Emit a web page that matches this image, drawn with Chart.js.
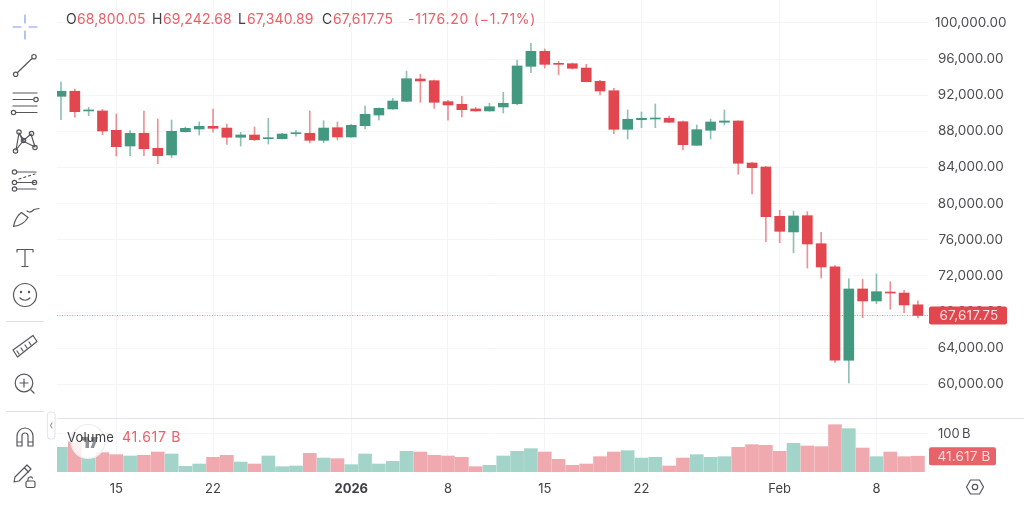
<!DOCTYPE html>
<html>
<head>
<meta charset="utf-8">
<title>BTC daily candles</title>
<script src="https://cdn.jsdelivr.net/npm/chart.js@4/dist/chart.umd.js"></script>
<style>
  html, body { margin: 0; padding: 0; background: #fff; overflow: hidden; }
  #wrap { position: relative; width: 1024px; height: 507px; font-family: Inter, "Noto Sans", sans-serif; }
  canvas { position: absolute; left: 0; top: 0; }
  svg { position: absolute; left: 0; top: 0; pointer-events: none; }
  .txt { position: absolute; font-size: 14px; line-height: 16px; white-space: pre; letter-spacing: .1px; top: 11px; }
  .dark { color: #3f4045; }
  .red { color: #e9606a; }
</style>
</head>
<body>
<div id="wrap">
  <canvas id="c" width="1024" height="507"></canvas>
  <svg width="1024" height="507" viewBox="0 0 1024 507" fill="none" stroke="#55575d" stroke-width="1.2" stroke-linecap="round" stroke-linejoin="round">
    <!-- watermark badge over the volume pane -->
    <circle cx="88" cy="441.5" r="17" fill="rgba(255,255,255,.82)" stroke="#ececee"/>
    <path d="M81 437h8v11h-3.5v-7.5H81z M91 437h7l-4 11h-3.5l3-7.5H91z" fill="#6a6b70" stroke="none" opacity=".75"/>
    <!-- crosshair -->
    <g stroke="#7f9bf0"><path d="M13 27h8M29 27h8M25 15v8M25 31v8"/></g>
    <!-- trend line -->
    <path d="M17.5 72.5L32 58.5"/><circle cx="15.7" cy="74.3" r="2.2"/><circle cx="34" cy="56.7" r="2.2"/>
    <!-- parallel channels -->
    <path d="M13 93h24M13 99.5h20M13 106h24M16 112.5h21"/><circle cx="36" cy="99.5" r="2.2"/><circle cx="13.5" cy="112.5" r="2.2"/>
    <!-- pattern tool -->
    <path d="M16 150L19 133L24 140L31 134L35 147L23 141L16 150M19 133L23 141"/>
    <circle cx="19" cy="132" r="2.2"/><circle cx="31.5" cy="133.5" r="2.2"/><circle cx="23.5" cy="140.5" r="2.2"/><circle cx="35" cy="147.5" r="2.2"/><circle cx="15.5" cy="151" r="2.2"/>
    <!-- fibonacci levels -->
    <path d="M17 172h19M17 182.5h18M17 189h19"/><path d="M19 179l16-5" stroke-dasharray="2 3"/>
    <circle cx="14.5" cy="172" r="2.2"/><circle cx="14.5" cy="182.5" r="2.2"/><circle cx="34.5" cy="182.5" r="2.2"/><circle cx="14.5" cy="189" r="2.2"/>
    <!-- brush -->
    <path d="M13.5 226.5c1-5 4-11 8-14l6.5 5c-3 5-7 8-14.500 9z"/><path d="M27 211c2 1.500 4 2 7-1.500l5-1"/>
    <!-- text -->
    <path d="M17 252v-2.500h16v2.500M25 249.500v17M22 266.500h6"/>
    <!-- emoji -->
    <circle cx="25" cy="295" r="11.500"/><path d="M20 298c3 3 7 3 10 0"/><circle cx="21" cy="292" r=".6"/><circle cx="29" cy="292" r=".6"/>
    <!-- divider rules -->
    <path d="M6.500 321.500h37M6.500 411.500h37" stroke="#dfe0e6"/>
    <!-- ruler -->
    <path d="M13 350L33 335.500l4 6L17.500 357z"/><path d="M17 351l2 3M21 348l2 3M25 345l2 3M29 342l2 3"/>
    <!-- zoom -->
    <circle cx="24" cy="383" r="8.800"/><path d="M31 390l3 3M24 379v8M20 383h8"/>
    <!-- magnet -->
    <path d="M17 446v-10a8 8 0 0 1 16 0v10h-5v-10a3 3 0 0 0-6 0v10zM17 442h5M28 442h5"/>
    <!-- lock pencil -->
    <path d="M14 482l1-5 12-12 4 4-12 12z"/><path d="M24.500 468l4 4"/><rect x="26" y="481" width="9" height="6.500" rx="1.500"/><path d="M28 481v-2a2.500 2.500 0 0 1 4.500-1"/>
    <!-- side collapse tab -->
    <rect x="47.500" y="412" width="7.500" height="27" rx="3" stroke="#e6e7ec"/>
    <path d="M52 423l-1.500 2.500L52 428" stroke="#9a9ba0"/>
    <!-- settings -->
    <path d="M970.500 480.500h9l4 7-4 7h-9l-4-7z" transform="translate(0 -0.500)"/><circle cx="975" cy="487" r="2.700"/>
  </svg>
  <div class="txt dark" style="left:66px">O</div><div class="txt red" style="left:77px">68,800.05</div>
  <div class="txt dark" style="left:152px">H</div><div class="txt red" style="left:163px">69,242.68</div>
  <div class="txt dark" style="left:238px">L</div><div class="txt red" style="left:247px">67,340.89</div>
  <div class="txt dark" style="left:322px">C</div><div class="txt red" style="left:333px">67,617.75</div>
  <div class="txt red" style="left:408px;letter-spacing:.75px">-1176.20 (−1.71%)</div>
  <div class="txt dark" style="left:67px;top:429px;font-size:13px;letter-spacing:.2px">Volume</div>
  <div class="txt red" style="left:122px;top:429px;letter-spacing:.7px">41.617 B</div>
</div>
<script>
// Daily BTC session dates, 11 Dec 2025 to 11 Feb 2026
const categories = [
  '2025-12-11','2025-12-12','2025-12-13','2025-12-14','2025-12-15','2025-12-16','2025-12-17','2025-12-18','2025-12-19','2025-12-20','2025-12-21',
  '2025-12-22','2025-12-23','2025-12-24','2025-12-25','2025-12-26','2025-12-27','2025-12-28','2025-12-29','2025-12-30','2025-12-31',
  '2026-01-01','2026-01-02','2026-01-03','2026-01-04','2026-01-05','2026-01-06','2026-01-07','2026-01-08','2026-01-09','2026-01-10',
  '2026-01-11','2026-01-12','2026-01-13','2026-01-14','2026-01-15','2026-01-16','2026-01-17','2026-01-18','2026-01-19','2026-01-20',
  '2026-01-21','2026-01-22','2026-01-23','2026-01-24','2026-01-25','2026-01-26','2026-01-27','2026-01-28','2026-01-29','2026-01-30',
  '2026-01-31','2026-02-01','2026-02-02','2026-02-03','2026-02-04','2026-02-05','2026-02-06','2026-02-07','2026-02-08','2026-02-09',
  '2026-02-10','2026-02-11'
];
const opens = [
  91870,92430,90250,90250,88110,86370,87780,86120,85380,87960,88250,
  88550,88360,87340,87590,87180,87180,87730,87780,87000,88400,
  87370,88620,89800,90470,91320,93790,93600,91280,90990,90470,
  90250,90690,91050,95190,96850,95480,95480,95000,93530,92490,
  88220,89280,89360,89440,89060,86450,88110,89000,89140,84490,
  84050,78590,76860,78660,75560,73010,62660,70550,69220,70180,
  70100,68800.05
];
const highs = [
  93460,92680,90660,90430,89910,88070,90250,89360,89250,88480,89030,
  90470,88810,87890,88480,89440,87780,88070,90250,89170,89030,
  88770,90800,90610,91650,94670,94310,93680,91430,91870,90660,
  91100,92320,95890,97740,97110,95750,95560,95410,93640,92760,
  90360,90140,91020,89690,89140,88700,89360,90360,89170,84570,
  84130,79260,79180,79100,76820,73130,71690,71620,72210,71350,
  70400,69242.68
];
const lows = [
  89280,89550,89730,87620,85270,85300,85300,84410,85080,87890,87590,
  87890,86560,86370,86960,86590,87150,87450,86700,86740,87040,
  87340,88250,89250,90430,91280,91210,90540,89220,89580,90210,
  90210,90020,90910,94480,95000,94260,94890,93460,92020,87730,
  87150,88400,88400,88950,85930,86410,87150,88700,83240,81060,
  75780,75670,74560,72870,71760,62390,60140,67370,68920,68300,
  67920,67340.89
];
const closes = [
  92430,90170,90300,88030,86300,87780,86070,85300,88000,88330,88550,
  88330,87340,87590,87070,87260,87700,87810,87000,88360,87370,
  88660,89880,90540,91350,93820,93570,91210,90910,90390,90250,
  90720,91100,95230,96850,95410,95410,94970,93490,92460,88220,
  89330,89440,89470,89000,86520,88180,89030,89140,84460,83970,
  78550,76930,78630,75530,72980,62660,70550,69220,70250,70100,
  68780,67617.75
];
// Traded volume in billions
const volumes = [
  64.9,79,36,50.9,45.6,42.1,43.9,52.6,47.4,14.9,21,
  38.6,43.9,26.3,21,42.1,14,15.8,49.1,36.8,35.1,
  19.3,47.4,21,28,54.4,52.6,43.9,42.1,38.6,14,
  17.5,42.1,54.4,61.4,52.6,33.3,17.5,21,40.3,52.6,
  56.1,36.8,38.6,15.8,36.8,45.6,38.6,40.3,64.9,71.9,
  70.2,54.4,75.4,68.4,66.7,124.5,114,63.1,40.3,52.6,
  40.3,41.617
];
const priceTicks = [60000,64000,68000,72000,76000,80000,84000,88000,92000,96000,100000];
const volumeTicks = [100];
const timeTickDates = ['2025-12-15','2025-12-22','2026-01-01','2026-01-08','2026-01-15','2026-01-22','2026-02-01','2026-02-08'];
const timeTickLabels = ['15','22','2026','8','15','22','Feb','8'];
const lastPrice = 67617.75;
const lastPriceLabel = '67,617.75';
const lastVolume = 41.617;
const lastVolumeLabel = '41.617 B';

const UP = '#439880', DOWN = '#e2474f';
const UP_WICK = 'rgba(67,152,128,.6)', DOWN_WICK = 'rgba(226,71,79,.6)';
const UP_VOL = '#a2d4c9', DOWN_VOL = '#f0a9ae';
const GRID = '#f5f5f7', INK = '#4c4d52';
const isUp = i => closes[i] >= opens[i];
const tickFont = { family: 'Inter', size: 13.5 };
const axisFont = { family: 'Inter', size: 13 };

// Strip the edge padding Chart.js reserves for tick labels so the panes fill the plot height
function fitPriceAxis(s) {
  s.width = 96;
  s.paddingTop = s.paddingBottom = 0;
}

// Last-value rule and price/volume badges on the right axes
const lastValuePlugin = {
  id: 'lastValue',
  afterDatasetsDraw(chart) {
    const { ctx, chartArea: a, scales } = chart;
    const py = scales.y.getPixelForValue(lastPrice);
    const vy = scales.yv.getPixelForValue(lastVolume);
    ctx.save();
    ctx.strokeStyle = 'rgba(226,71,79,.6)';
    ctx.lineWidth = 1;
    ctx.setLineDash([1, 1.5]);
    ctx.beginPath();
    ctx.moveTo(a.left, Math.round(py) + .5);
    ctx.lineTo(a.right, Math.round(py) + .5);
    ctx.stroke();
    ctx.setLineDash([]);
    // separator between the panes
    ctx.strokeStyle = '#e0e2ea';
    ctx.beginPath();
    ctx.moveTo(a.left, 418.5);
    ctx.lineTo(chart.width, 418.5);
    ctx.stroke();
    ctx.textBaseline = 'middle';
    ctx.textAlign = 'center';
    ctx.fillStyle = DOWN;
    ctx.beginPath();
    ctx.roundRect(a.right + 1, py - 9, 78, 18, 2);
    ctx.fill();
    ctx.font = '13.5px Inter';
    ctx.letterSpacing = '.2px';
    ctx.fillStyle = '#f9dfe1';
    ctx.fillText(lastPriceLabel, a.right + 41, py + .5);
    ctx.fillStyle = '#e8626a';
    ctx.beginPath();
    ctx.roundRect(a.right + 1, vy - 9, 67, 18, 2);
    ctx.fill();
    ctx.fillStyle = '#fbdfe1';
    ctx.fillText(lastVolumeLabel, a.right + 36, vy + .5);
    ctx.restore();
  }
};

new Chart(document.getElementById('c'), {
  data: {
    datasets: [
      {
        type: 'bar', label: 'Candle body', order: 1, yAxisID: 'y', barThickness: 10,
        data: categories.map((_, i) => ({ x: i, y: [Math.min(opens[i], closes[i]), Math.max(opens[i], closes[i])] })),
        backgroundColor: categories.map((_, i) => isUp(i) ? UP : DOWN)
      },
      {
        type: 'bar', label: 'Wick', order: 2, yAxisID: 'y', barThickness: 1,
        data: categories.map((_, i) => ({ x: i, y: [lows[i], highs[i]] })),
        backgroundColor: categories.map((_, i) => isUp(i) ? UP_WICK : DOWN_WICK)
      },
      {
        type: 'bar', label: 'Volume', order: 3, yAxisID: 'yv', barThickness: 13,
        data: categories.map((_, i) => ({ x: i, y: volumes[i] })),
        backgroundColor: categories.map((_, i) => isUp(i) ? UP_VOL : DOWN_VOL)
      }
    ]
  },
  options: {
    responsive: false,
    animation: false,
    devicePixelRatio: 1,
    layout: { padding: { left: 57, right: 0, top: 0, bottom: 0 } },
    plugins: { legend: { display: false }, tooltip: { enabled: false } },
    datasets: { bar: { grouped: false, borderWidth: 0, borderSkipped: false, minBarLength: 1 } },
    scales: {
      x: {
        type: 'linear',
        offset: false,
        min: -0.29,
        max: 62.73,
        afterBuildTicks: s => { s.ticks = timeTickDates.map(d => ({ value: categories.indexOf(d) })); },
        afterFit: s => { s.height = 35; s.paddingLeft = s.paddingRight = 0; },
        grid: { color: GRID, drawTicks: false, offset: false },
        border: { display: false },
        ticks: {
          autoSkip: false, maxRotation: 0, padding: 9, color: '#3f4045',
          font: ctx => ctx.index === 2 ? { family: 'Inter', size: 13, weight: '700' } : axisFont,
          callback: (v, i) => timeTickLabels[i]
        }
      },
      y: {
        position: 'right',
        stack: 'panes',
        stackWeight: 418,
        min: 56270,
        max: 102530,
        afterBuildTicks: s => { s.ticks = priceTicks.map(value => ({ value })); },
        afterFit: fitPriceAxis,
        grid: { color: GRID, drawTicks: false },
        border: { display: false },
        ticks: {
          autoSkip: false, padding: 7, color: INK, font: tickFont, crossAlign: 'center',
          callback: v => v.toLocaleString('en-US', { minimumFractionDigits: 2, maximumFractionDigits: 2 })
        }
      },
      yv: {
        position: 'right',
        stack: 'panes',
        stackWeight: 54,
        min: 0,
        max: 142.1,
        afterBuildTicks: s => { s.ticks = volumeTicks.map(value => ({ value })); },
        afterFit: fitPriceAxis,
        grid: { color: GRID, drawTicks: false },
        border: { display: false },
        ticks: {
          autoSkip: false, padding: 10, color: INK, font: axisFont, crossAlign: 'near',
          callback: v => v + '\u2009B'
        }
      }
    }
  },
  plugins: [lastValuePlugin]
});
</script>
</body>
</html>
